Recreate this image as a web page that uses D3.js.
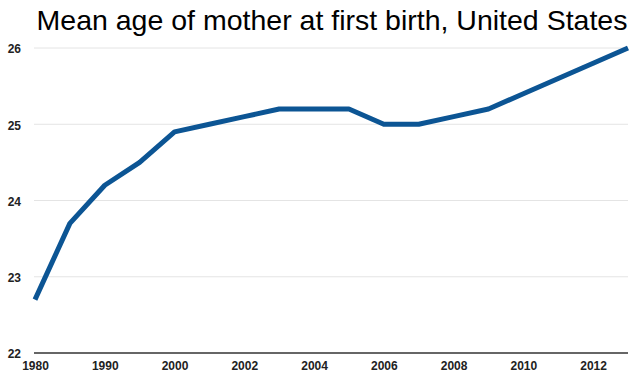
<!DOCTYPE html>
<html><head><meta charset="utf-8">
<script src="https://cdn.jsdelivr.net/npm/d3@7"></script>
<style>body{margin:0;background:#fff}svg{display:block}</style>
</head><body><svg id="c" width="640" height="383"></svg>
<script>
const years = ["1980","1985","1990","1995","2000","2001","2002","2003","2004","2005","2006","2007","2008","2009","2010","2011","2012","2013"];
const meanAge = [22.7,23.7,24.2,24.5,24.9,25.0,25.1,25.2,25.2,25.2,25.0,25.0,25.1,25.2,25.4,25.6,25.8,26.0];
const shownYearLabels = ["1980","1990","2000","2002","2004","2006","2008","2010","2012"];
const yTicks = [22,23,24,25,26];
const title = "Mean age of mother at first birth, United States";

const svg = d3.select("#c");
const x = d3.scalePoint().domain(years).range([35,628]);
const y = d3.scaleLinear().domain([22,26]).range([353,48]);

svg.append("text").attr("x",332).attr("y",30).attr("text-anchor","middle")
  .attr("font-family","Liberation Sans, Arial, sans-serif").attr("font-size",28.5)
  .attr("fill","#000").text(title);

// gridlines
svg.append("g").selectAll("line").data(yTicks.filter(d=>d>22)).join("line")
  .attr("x1",34).attr("x2",628).attr("y1",d=>y(d)).attr("y2",d=>y(d))
  .attr("stroke","#e4e4e4").attr("stroke-width",1);

// y axis labels
const yAxis = d3.axisLeft(y).tickValues(yTicks).tickSize(0).tickPadding(0).tickFormat(d3.format("d"));
const gy = svg.append("g").attr("transform","translate(21,1)").call(yAxis);
gy.select(".domain").remove();
gy.selectAll("text").attr("font-family","Liberation Sans, Arial, sans-serif").attr("font-size",12)
  .attr("font-weight","bold").attr("fill","#222");

// x axis
const xAxis = d3.axisBottom(x).tickValues(shownYearLabels).tickSize(0).tickPadding(8.5);
const gx = svg.append("g").attr("transform","translate(0,353)").call(xAxis);
gx.select(".domain").remove();
gx.selectAll("text").attr("font-family","Liberation Sans, Arial, sans-serif").attr("font-size",12)
  .attr("font-weight","bold").attr("fill","#222");
svg.append("line").attr("x1",34).attr("x2",628).attr("y1",353).attr("y2",353)
  .attr("stroke","#333").attr("stroke-width",1.5);

// line
const line = d3.line().x((d,i)=>x(years[i])).y(d=>y(d));
svg.append("path").datum(meanAge).attr("d",line).attr("fill","none")
  .attr("stroke","#0c5594").attr("stroke-width",5).attr("stroke-linejoin","round");
</script></body></html>
